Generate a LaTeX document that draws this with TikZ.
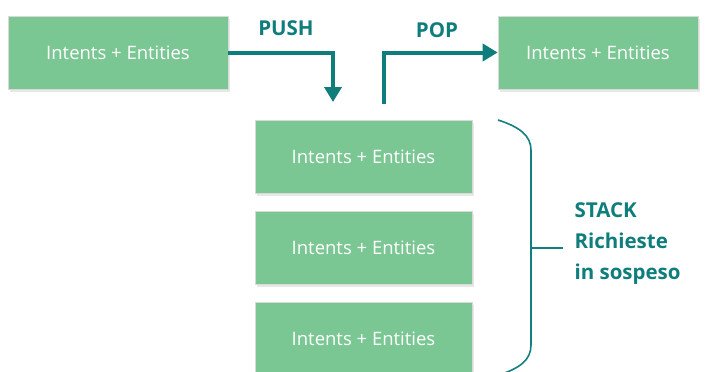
\documentclass[tikz,border=0pt]{standalone}
\usepackage{fontspec}
\setmainfont{Open Sans}
\usetikzlibrary{arrows.meta,shadows}
\definecolor{boxgreen}{HTML}{7BC794}
\definecolor{teal1}{HTML}{0F7D7C}
\definecolor{teal2}{HTML}{13807F}
\begin{document}
\begin{tikzpicture}[x=1pt,y=-1pt,
  box/.style={draw=black!15, line width=0.6pt, fill=boxgreen, text=white, minimum height=73pt, inner sep=0pt,
    font=\fontsize{18.5}{20}\selectfont, drop shadow={shadow xshift=2pt, shadow yshift=-2.5pt, opacity=0.18}},
  arr/.style={draw=teal1, line width=4pt, -{Triangle[length=15pt,width=17pt]}},
  lbl/.style={text=teal1, font=\bfseries\fontsize{20.5}{22}\selectfont},
  brace/.style={draw=teal2, line width=1.6pt}]
\useasboundingbox (0,0) rectangle (707,372);
\node[box, minimum width=220pt] (a) at (118,52.5) {Intents + Entities};
\node[box, minimum width=200pt] (b) at (598,52.5) {Intents + Entities};
\node[box, minimum width=217pt] (s1) at (363.5,156.5) {Intents + Entities};
\node[box, minimum width=217pt] (s2) at (363.5,247.5) {Intents + Entities};
\node[box, minimum width=217pt] (s3) at (363.5,338.5) {Intents + Entities};
\coordinate (pushend) at (333,102);
\coordinate (popstart) at (384,104);
\draw[arr] (a.east) -| (pushend);
\draw[arr, line cap=butt] (popstart) |- (b.west);
\node[lbl] (push) at (286,28) {PUSH};
\node[lbl] (pop) at (437,30) {POP};
\coordinate (bt) at (498,120);
\coordinate (bb) at (499,375);
\coordinate (bm) at (531,248);
\coordinate (bm2) at (563,248);
\draw[brace] (bt) .. controls (520,127) and (531,136) .. (531,150) -- (531,345) .. controls (531,360) and (520,368) .. (bb);
\draw[brace] (bm) -- (bm2);
\node[lbl, anchor=west, align=left, font=\bfseries\fontsize{20.5}{31}\selectfont] (st) at (571,244) {STACK\\Richieste\\in sospeso};
\end{tikzpicture}
\end{document}
